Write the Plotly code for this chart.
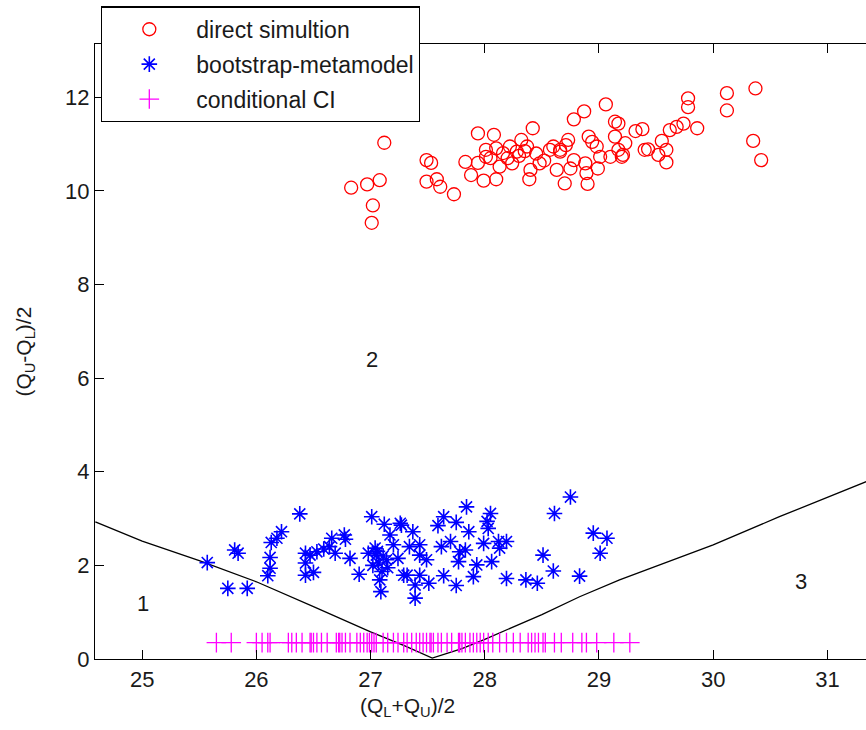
import plotly.graph_objects as go

# direct simulation (red circles)
direct_x = [27.12, 26.83, 26.97, 27.08, 27.02, 27.01, 27.49, 27.53, 27.49, 27.58, 27.61, 27.73,
            27.83, 27.88, 27.99, 27.94, 28.08, 28.10, 28.42, 28.01, 28.01, 28.10, 28.16, 28.22,
            28.28, 28.32, 28.37, 28.13, 28.24, 28.40, 28.39, 28.48, 28.57, 28.66, 28.63, 28.70,
            29.06, 28.87, 28.78, 29.14, 29.17, 29.32, 29.38, 29.78, 29.78, 29.62, 29.68, 29.74,
            29.86, 30.12, 30.12, 30.37, 30.35, 30.42, 29.55, 29.43, 29.40, 29.59, 29.52, 29.59,
            29.21, 29.17, 29.14, 29.23, 28.98, 28.91, 28.94, 28.73, 28.66, 29.01, 28.99, 28.89,
            28.75, 28.78, 28.88, 29.10, 29.20, 27.94, 28.05, 28.30, 28.45, 28.52, 28.60, 28.35,
            28.20, 28.71, 28.90]
direct_y = [11.03, 10.07, 10.14, 10.23, 9.69, 9.32, 10.66, 10.60, 10.20, 10.25, 10.09, 9.93,
            10.62, 10.34, 10.22, 11.23, 11.20, 10.25, 11.34, 10.88, 10.73, 10.91, 10.81, 10.95,
            10.84, 11.09, 10.95, 10.52, 10.59, 10.45, 10.25, 10.59, 10.88, 10.84, 10.45, 10.16,
            11.85, 11.70, 11.53, 11.48, 11.44, 11.28, 11.32, 11.98, 11.79, 11.30, 11.37, 11.44,
            11.34, 12.09, 11.72, 12.19, 11.07, 10.66, 11.07, 10.89, 10.88, 10.88, 10.77, 10.61,
            10.77, 10.88, 11.16, 11.02, 10.95, 11.16, 11.05, 11.09, 10.88, 10.73, 10.48, 10.38,
            10.48, 10.66, 10.59, 10.73, 10.73, 10.60, 10.70, 10.75, 10.80, 10.65, 10.95, 10.85,
            10.70, 10.98, 10.15]

# bootstrap-metamodel (blue stars)
boot_x = [26.38, 25.57, 25.75, 25.92, 25.81, 25.84, 26.22, 26.18, 26.13, 26.12, 26.12, 26.10,
          26.43, 26.43, 26.43, 26.50, 26.47, 26.53, 26.59, 26.64, 26.66, 26.69, 26.77, 26.78,
          26.82, 26.90, 27.01, 27.12, 27.26, 26.98, 27.05, 27.07, 27.10, 27.08, 27.09, 27.17,
          27.20, 27.24, 27.29, 27.04, 27.14,
          28.75, 28.61, 28.95, 29.07, 29.01, 28.51, 28.60, 28.83, 28.19, 28.36, 28.46, 27.84,
          28.05, 27.64, 27.75, 27.59, 28.02, 28.03, 27.86, 27.37, 27.27, 27.34, 27.43, 27.43,
          27.49, 27.62, 27.70, 27.78, 27.83, 27.77, 27.93, 27.99, 28.06, 28.12, 28.13, 28.19,
          27.32, 27.43, 27.39, 27.51, 27.39, 27.64, 27.75, 27.90, 27.06, 27.11, 27.15, 27.02]
boot_y = [3.10, 2.06, 1.51, 1.51, 2.33, 2.26, 2.72, 2.58, 2.49, 2.17, 1.94, 1.78,
          2.26, 2.05, 1.79, 1.85, 2.22, 2.29, 2.35, 2.40, 2.58, 2.26, 2.65, 2.56,
          2.15, 1.81, 3.04, 2.88, 2.90, 2.26, 2.22, 2.05, 1.87, 1.69, 1.44, 2.65,
          2.44, 2.15, 1.79, 2.37, 2.12,
          3.46, 3.11, 2.69, 2.58, 2.26, 2.22, 1.88, 1.77, 1.72, 1.69, 1.62, 3.25,
          3.11, 3.04, 2.92, 2.85, 2.94, 2.79, 2.72, 2.72, 2.86, 2.40, 2.44, 2.22,
          2.12, 2.40, 2.51, 2.29, 2.33, 2.08, 2.01, 2.47, 2.08, 2.51, 2.37, 2.51,
          1.79, 1.79, 1.58, 1.62, 1.30, 1.78, 1.57, 1.76, 2.30, 2.20, 1.95, 2.00]

# conditional CI (magenta pluses)
ci_x = [25.65, 25.78, 26.00, 26.05, 26.10, 26.12, 26.28, 26.31, 26.35, 26.40, 26.47, 26.48,
        26.50, 26.53, 26.57, 26.62, 26.70, 26.72, 26.73, 26.75, 26.78, 26.82, 26.88, 26.91,
        26.94, 26.97, 26.99, 27.01, 27.03, 27.05, 27.11, 27.15, 27.20, 27.24, 27.29,
        27.32, 27.36, 27.40, 27.43, 27.46, 27.49, 27.52, 27.53, 27.55, 27.59, 27.62, 27.67,
        27.71, 27.77, 27.78, 27.80, 27.83, 27.87, 27.90, 27.93, 27.96, 27.99, 28.03, 28.07,
        28.13, 28.19, 28.25, 28.31, 28.38, 28.41, 28.44, 28.47, 28.51, 28.53, 28.61, 28.67,
        28.77, 28.85, 28.89, 28.98, 29.13, 29.27]
ci_y = [0.35] * len(ci_x)

# boundary curve
bound_x = [24.59, 25.0, 25.5, 26.0, 26.5, 27.0, 27.3, 27.54, 27.8, 28.0, 28.5, 28.83, 29.18,
           30.0, 30.58, 31.34]
bound_y = [2.93, 2.52, 2.10, 1.65, 1.12, 0.58, 0.28, 0.02, 0.22, 0.42, 0.95, 1.33, 1.69,
           2.44, 3.04, 3.79]

# region labels
region_x = [25.01, 27.01, 30.77]
region_y = [1.18, 6.39, 1.65]
region_text = ["1", "2", "3"]

FONT = "Liberation Sans, Arial, sans-serif"
TXT = "#1a1a1a"

fig = go.Figure()
fig.add_trace(go.Scatter(x=bound_x, y=bound_y, mode="lines", line=dict(color="black", width=1.3),
                         showlegend=False, hoverinfo="skip"))
fig.add_trace(go.Scatter(x=direct_x, y=direct_y, mode="markers", name="direct simultion",
                         legendgroup="a",
                         marker=dict(symbol="circle-open", size=13, color="#ff0000",
                                     line=dict(width=1.3, color="#ff0000"))))
fig.add_trace(go.Scatter(x=boot_x, y=boot_y, mode="markers", name="bootstrap-metamodel",
                         legendgroup="b",
                         marker=dict(symbol="asterisk-open", size=13, color="#0000ff",
                                     line=dict(width=1.6, color="#0000ff"))))
fig.add_trace(go.Scatter(x=ci_x, y=ci_y, mode="markers", name="conditional CI",
                         legendgroup="c",
                         marker=dict(symbol="cross-thin-open", size=14, color="#ff00ff",
                                     line=dict(width=1.3, color="#ff00ff"))))

for x, y, t in zip(region_x, region_y, region_text):
    fig.add_annotation(x=x, y=y, text=t, showarrow=False, xref="x", yref="y",
                       font=dict(family=FONT, size=22, color=TXT))

fig.add_annotation(x=0.405, xref="paper", y=-0.054, yref="paper", yanchor="top",
                   text="(Q<sub>L</sub>+Q<sub>U</sub>)/2", showarrow=False,
                   font=dict(family=FONT, size=21, color=TXT))
fig.add_annotation(x=-0.092, xref="paper", xanchor="center", y=0.5, yref="paper",
                   text="(Q<sub>U</sub>-Q<sub>L</sub>)/2", textangle=-90, showarrow=False,
                   font=dict(family=FONT, size=21, color=TXT))

fig.update_layout(
    width=866, height=730,
    margin=dict(l=95, r=0, t=44, b=71, autoexpand=False),
    paper_bgcolor="white", plot_bgcolor="white",
    font=dict(family=FONT, size=22, color=TXT),
    showlegend=True,
    legend=dict(x=0.0078, y=1.061, xanchor="left", yanchor="top",
                bgcolor="white", bordercolor="black", borderwidth=1.3,
                font=dict(family=FONT, size=23, color=TXT),
                itemwidth=84, tracegroupgap=2, traceorder="grouped"),
    xaxis=dict(range=[24.587, 31.338], tickvals=[25, 26, 27, 28, 29, 30, 31],
               showgrid=False, zeroline=False, showline=True, linecolor="black", linewidth=1.3,
               mirror="ticks", ticks="inside", ticklen=9, tickcolor="black", tickwidth=1.3,
               tickfont=dict(family=FONT, size=22, color=TXT)),
    yaxis=dict(range=[0, 13.14], tickvals=[0, 2, 4, 6, 8, 10, 12],
               showgrid=False, zeroline=False, showline=True, linecolor="black", linewidth=1.3,
               mirror=False, ticks="inside", ticklen=9, tickcolor="black", tickwidth=1.3,
               tickfont=dict(family=FONT, size=22, color=TXT)),
)

# remove the default page margin so the 866x730 figure fills the window exactly
fig.write_html("out.html", config={"displayModeBar": False},
               post_script="document.body.style.margin='0px';document.body.style.overflow='hidden';")
